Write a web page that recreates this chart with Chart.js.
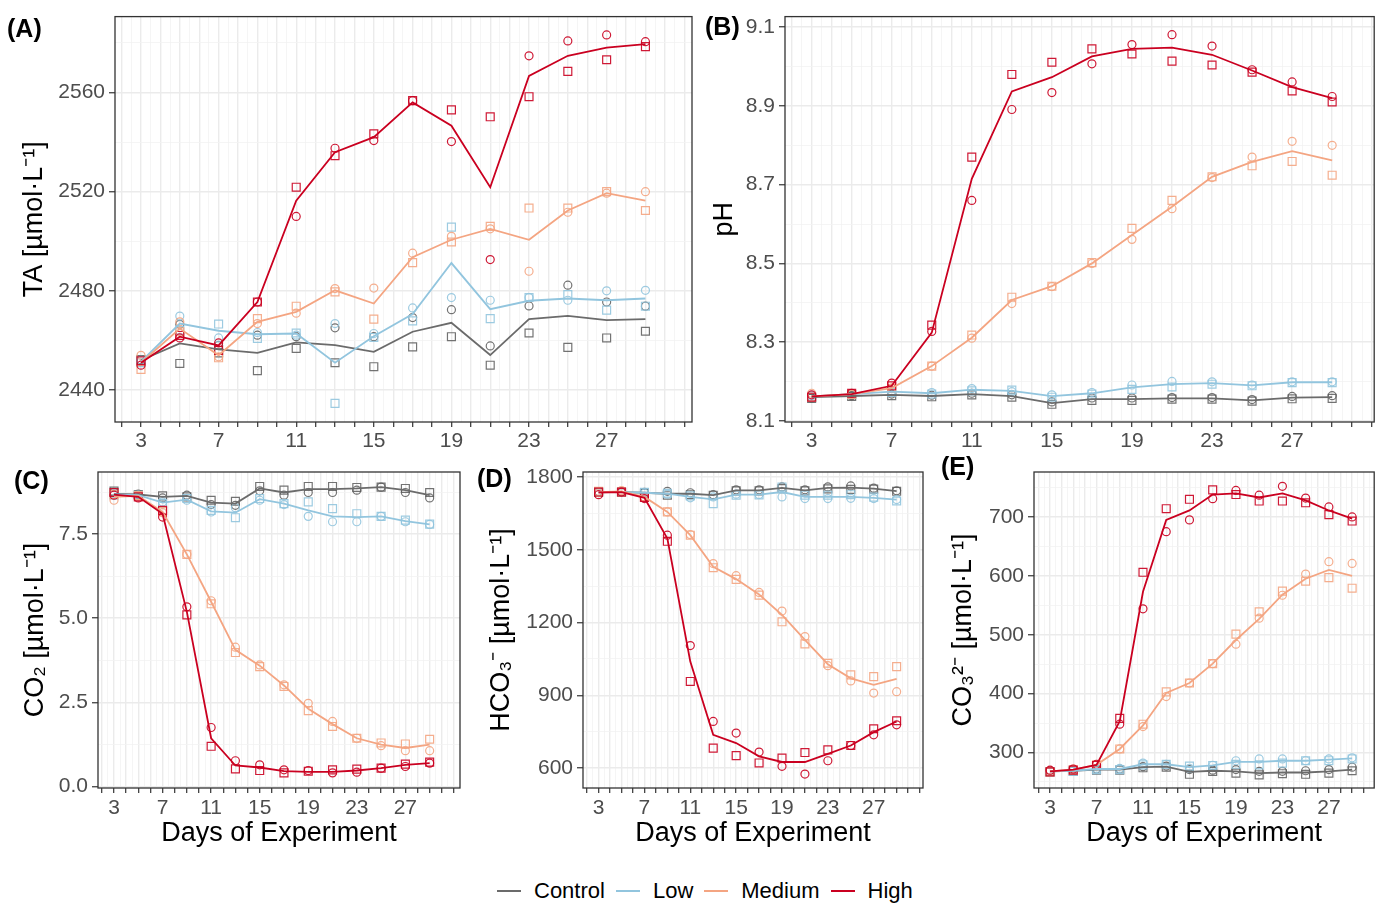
<!DOCTYPE html>
<html>
<head>
<meta charset="utf-8">
<script src="https://cdn.jsdelivr.net/npm/chart.js@4.4.1/dist/chart.umd.min.js"></script>
<style>
body { margin: 0; width: 1381px; height: 903px; overflow: hidden; background: #fff;
       font-family: "Liberation Sans", Arial, sans-serif; }
canvas { position: absolute; }
.lab { position: absolute; font-weight: bold; font-size: 25px; line-height: 1; color: #000; }
#legend { position: absolute; left: 497px; top: 880px; display: flex; align-items: center;
          font-size: 22px; line-height: 1; color: #000; }
#legend .key { width: 24px; height: 2px; margin-right: 13px; }
#legend .txt { margin-right: 11px; }
</style>
</head>
<body>
<canvas id="ta" width="700" height="455" style="left:0;top:0"></canvas>
<canvas id="ph" width="681" height="455" style="left:700px;top:0"></canvas>
<canvas id="co2" width="470" height="400" style="left:0;top:455px"></canvas>
<canvas id="hco3" width="460" height="400" style="left:470px;top:455px"></canvas>
<canvas id="co3" width="451" height="400" style="left:930px;top:455px"></canvas>

<div class="lab" style="left:7px;top:16px">(A)</div>
<div class="lab" style="left:705px;top:14px">(B)</div>
<div class="lab" style="left:14px;top:468px">(C)</div>
<div class="lab" style="left:477px;top:466px">(D)</div>
<div class="lab" style="left:941px;top:454px">(E)</div>

<div id="legend"></div>

<script>
// sampling days
var days = [3, 5, 7, 9, 11, 13, 15, 17, 19, 21, 23, 25, 27, 29];
var treatments = ['Control', 'Low', 'Medium', 'High'];
var colours = ['#6b6b6b', '#92c5de', '#f4a582', '#ca0020'];
var point_colours = ['rgba(90,90,90,0.85)', 'rgba(146,197,222,0.9)', 'rgba(244,165,130,0.9)', 'rgba(202,0,32,0.9)'];
var x_labels = [3, 7, 11, 15, 19, 23, 27];

// rows: Control, Low, Medium, High. rep1 = circles, rep2 = squares
// (A) total alkalinity
var ta_mean = [
    [2452, 2458.8, 2456.4, 2455, 2459.2, 2458.1, 2455.4, 2463.5, 2467.1, 2454.1, 2468.6, 2469.9, 2468.2, 2468.6],
    [2451.4, 2466.8, 2463.9, 2462.5, 2462.8, 2451, 2461.7, 2470.6, 2491.2, 2472.6, 2476, 2476.9, 2476.2, 2476.9],
    [2451, 2464.8, 2454, 2467.5, 2471.5, 2480.2, 2474.9, 2493.6, 2500.6, 2505, 2500.6, 2512.4, 2519.4, 2516.4],
    [2451, 2461.5, 2458, 2475.5, 2516.4, 2535.9, 2542, 2556, 2546.6, 2521.8, 2566.7, 2574.8, 2578.1, 2579.5]
];
var ta_rep1 = [
    [2452, 2466.5, 2458, 2462.1, 2461.5, 2465.1, 2461.5, 2469.2, 2472.4, 2457.8, 2473.9, 2482.3, 2475.5, 2473.8],
    [2452, 2469.8, 2461, 2463.2, 2462.1, 2466.8, 2462.8, 2473.1, 2477.3, 2476.2, 2477.3, 2476.2, 2480, 2480.2],
    [2454, 2467.5, 2453.4, 2466.8, 2471, 2480.9, 2481.1, 2495.2, 2502, 2505, 2487.9, 2511.7, 2519.4, 2520],
    [2450, 2461, 2459, 2475.5, 2510, 2537.5, 2540.6, 2556.7, 2540.2, 2492.6, 2574.8, 2580.8, 2583.2, 2580.5]
];
var ta_rep2 = [
    [2452.3, 2450.7, 2455, 2447.8, 2456.8, 2451, 2449.4, 2457.4, 2461.5, 2450, 2463, 2457.2, 2461, 2463.7],
    [2451, 2464.1, 2466.6, 2460.8, 2463, 2434.6, 2461.2, 2467.9, 2505.7, 2468.8, 2477.3, 2478.5, 2472.2, 2473.8],
    [2448.3, 2463.5, 2453, 2468.8, 2473.8, 2479.6, 2468.6, 2491.4, 2499.7, 2506, 2513.4, 2513.4, 2520, 2512.4],
    [2451.8, 2462, 2456, 2475.5, 2521.8, 2534.5, 2543.3, 2556.7, 2553, 2550.2, 2558.3, 2568.5, 2573.2, 2578.5]
];
var ta_grid = [2440, 2460, 2480, 2500, 2520, 2540, 2560, 2580];
var ta_labels = [2440, 2480, 2520, 2560];

// (B) pH
var ph_mean = [
    [8.160, 8.163, 8.166, 8.163, 8.168, 8.163, 8.145, 8.155, 8.155, 8.157, 8.157, 8.152, 8.159, 8.160],
    [8.162, 8.168, 8.174, 8.170, 8.179, 8.176, 8.163, 8.170, 8.185, 8.193, 8.196, 8.190, 8.198, 8.198],
    [8.162, 8.168, 8.183, 8.239, 8.311, 8.407, 8.442, 8.500, 8.572, 8.644, 8.720, 8.758, 8.785, 8.762],
    [8.162, 8.168, 8.189, 8.324, 8.715, 8.937, 8.973, 9.026, 9.045, 9.048, 9.030, 8.990, 8.948, 8.920]
];
var ph_rep1 = [
    [8.158, 8.164, 8.168, 8.165, 8.170, 8.166, 8.148, 8.158, 8.158, 8.159, 8.159, 8.154, 8.162, 8.164],
    [8.164, 8.169, 8.176, 8.172, 8.182, 8.174, 8.166, 8.172, 8.191, 8.200, 8.199, 8.191, 8.199, 8.199],
    [8.170, 8.169, 8.184, 8.239, 8.310, 8.398, 8.441, 8.500, 8.561, 8.639, 8.718, 8.770, 8.810, 8.800],
    [8.166, 8.170, 8.196, 8.327, 8.660, 8.891, 8.934, 9.007, 9.056, 9.081, 9.052, 8.992, 8.961, 8.924]
];
var ph_rep2 = [
    [8.157, 8.162, 8.164, 8.161, 8.166, 8.160, 8.142, 8.152, 8.152, 8.155, 8.155, 8.150, 8.156, 8.157],
    [8.160, 8.167, 8.172, 8.168, 8.176, 8.178, 8.160, 8.168, 8.180, 8.186, 8.193, 8.189, 8.197, 8.197],
    [8.160, 8.167, 8.182, 8.239, 8.318, 8.414, 8.442, 8.502, 8.589, 8.660, 8.720, 8.748, 8.759, 8.724],
    [8.160, 8.170, 8.189, 8.343, 8.770, 8.980, 9.011, 9.045, 9.032, 9.014, 9.004, 8.986, 8.938, 8.910]
];
var ph_grid = [8.1, 8.2, 8.3, 8.4, 8.5, 8.6, 8.7, 8.8, 8.9, 9.0, 9.1];
var ph_labels = [8.1, 8.3, 8.5, 8.7, 8.9, 9.1];

// (C) CO2
var co2_mean = [
    [8.70, 8.68, 8.61, 8.64, 8.44, 8.41, 8.86, 8.74, 8.84, 8.84, 8.86, 8.90, 8.81, 8.66],
    [8.68, 8.66, 8.44, 8.53, 8.18, 8.14, 8.54, 8.41, 8.21, 8.03, 8.01, 8.03, 7.89, 7.79],
    [8.61, 8.64, 8.16, 6.90, 5.49, 4.06, 3.59, 3.00, 2.31, 1.85, 1.43, 1.24, 1.14, 1.24],
    [8.68, 8.61, 8.11, 5.19, 1.43, 0.62, 0.56, 0.45, 0.43, 0.43, 0.47, 0.54, 0.64, 0.69]
];
var co2_rep1 = [
    [8.74, 8.69, 8.58, 8.66, 8.38, 8.36, 8.79, 8.66, 8.74, 8.74, 8.81, 8.90, 8.74, 8.58],
    [8.70, 8.66, 8.46, 8.51, 8.16, 8.29, 8.51, 8.38, 8.03, 7.87, 7.87, 8.03, 7.87, 7.79],
    [8.51, 8.63, 8.14, 6.90, 5.52, 4.14, 3.61, 3.02, 2.47, 1.93, 1.43, 1.21, 1.06, 1.06],
    [8.66, 8.58, 8.01, 5.34, 1.75, 0.76, 0.64, 0.49, 0.47, 0.40, 0.42, 0.54, 0.59, 0.69]
];
var co2_rep2 = [
    [8.78, 8.68, 8.64, 8.61, 8.51, 8.48, 8.92, 8.81, 8.92, 8.92, 8.89, 8.90, 8.86, 8.74],
    [8.66, 8.66, 8.41, 8.56, 8.21, 7.99, 8.56, 8.41, 8.46, 8.26, 8.11, 8.03, 7.92, 7.80],
    [8.68, 8.65, 8.18, 6.90, 5.43, 3.98, 3.56, 2.97, 2.25, 1.78, 1.43, 1.29, 1.26, 1.40],
    [8.74, 8.61, 8.21, 5.10, 1.19, 0.52, 0.47, 0.40, 0.45, 0.49, 0.51, 0.54, 0.66, 0.72]
];
var co2_grid = [0, 1.25, 2.5, 3.75, 5, 6.25, 7.5, 8.75];
var co2_labels = [0, 2.5, 5, 7.5];

// (D) HCO3-
var hco3_mean = [
    [1738, 1738, 1735, 1731, 1731, 1725, 1745, 1745, 1755, 1745, 1755, 1756, 1752, 1742],
    [1738, 1738, 1735, 1731, 1718, 1708, 1727, 1727, 1738, 1718, 1718, 1718, 1714, 1707],
    [1738, 1741, 1718, 1656, 1560, 1430, 1379, 1316, 1231, 1128, 1028, 970, 943, 968],
    [1736, 1738, 1714, 1546, 1039, 737, 703, 648, 625, 625, 658, 693, 748, 792]
];
var hco3_rep1 = [
    [1740, 1740, 1737, 1741, 1735, 1727, 1747, 1747, 1759, 1747, 1759, 1763, 1754, 1743],
    [1736, 1737, 1733, 1729, 1714, 1718, 1729, 1728, 1718, 1711, 1711, 1712, 1711, 1707],
    [1735, 1744, 1718, 1656, 1563, 1443, 1393, 1324, 1247, 1142, 1022, 959, 909, 915],
    [1727, 1738, 1711, 1560, 1105, 792, 744, 666, 607, 575, 630, 693, 737, 778]
];
var hco3_rep2 = [
    [1736, 1736, 1733, 1725, 1727, 1725, 1743, 1743, 1752, 1743, 1751, 1749, 1750, 1741],
    [1740, 1739, 1737, 1733, 1722, 1690, 1725, 1726, 1759, 1725, 1725, 1727, 1717, 1701],
    [1741, 1738, 1718, 1656, 1560, 1426, 1378, 1313, 1203, 1112, 1032, 984, 977, 1018],
    [1738, 1738, 1716, 1535, 957, 682, 651, 621, 641, 664, 675, 693, 762, 795]
];
var hco3_grid = [600, 750, 900, 1050, 1200, 1350, 1500, 1650, 1800];
var hco3_labels = [600, 900, 1200, 1500, 1800];

// (E) CO3 2-
var co3_mean = [
    [268, 269, 271, 271, 275, 276, 267, 269, 268, 265, 266, 266, 268, 271],
    [268, 269, 272, 272, 280, 280, 275, 278, 284, 284, 286, 286, 288, 290],
    [268, 271, 279, 306, 346, 401, 418, 451, 491, 527, 568, 595, 610, 600],
    [268, 271, 279, 353, 573, 695, 711, 738, 740, 733, 740, 728, 711, 697]
];
var co3_rep1 = [
    [269, 270, 272, 272, 276, 277, 271, 270, 271, 268, 268, 269, 271, 275],
    [269, 270, 273, 273, 282, 280, 273, 278, 286, 289, 289, 286, 289, 291],
    [269, 272, 279, 306, 344, 395, 418, 451, 484, 528, 567, 603, 624, 621],
    [270, 272, 280, 348, 544, 675, 695, 731, 745, 737, 752, 732, 717, 700]
];
var co3_rep2 = [
    [267, 268, 270, 270, 274, 275, 263, 268, 265, 262, 264, 263, 265, 269],
    [267, 268, 271, 271, 279, 280, 277, 278, 280, 279, 282, 286, 286, 289],
    [267, 270, 279, 306, 348, 403, 418, 451, 501, 539, 574, 591, 597, 579],
    [267, 270, 278, 358, 606, 714, 730, 746, 738, 727, 727, 724, 704, 693]
];
var co3_grid = [250, 300, 350, 400, 450, 500, 550, 600, 650, 700, 750];
var co3_labels = [300, 400, 500, 600, 700];

var FONT = '"Liberation Sans", Arial, sans-serif';
Chart.defaults.font.family = FONT;
Chart.defaults.animation = false;

// vertical grid every half day, ticks on whole days
var x_grid = [];
for (var g = 2; g <= 31; g += 0.5) x_grid.push(g);

function pts(arr) {
    return days.map(function (d, i) { return {x: d, y: arr[i]}; });
}

function make_datasets(mean, rep1, rep2) {
    var ds = [];
    for (var t = treatments.length - 1; t >= 0; t--) {
        ds.push({label: treatments[t], data: pts(mean[t]), borderColor: colours[t],
                 borderWidth: 1.8, pointRadius: 0, tension: 0, fill: false});
    }
    for (var t = treatments.length - 1; t >= 0; t--) {
        ds.push({data: pts(rep1[t]), showLine: false, pointStyle: 'circle', pointRadius: 4,
                 pointBorderWidth: 1.2, pointBorderColor: point_colours[t],
                 pointBackgroundColor: 'rgba(0,0,0,0)', borderColor: point_colours[t]});
        ds.push({data: pts(rep2[t]), showLine: false, pointStyle: 'rect', pointRadius: 5.6,
                 pointBorderWidth: 1.2, pointBorderColor: point_colours[t],
                 pointBackgroundColor: 'rgba(0,0,0,0)', borderColor: point_colours[t]});
    }
    return ds;
}

var frame = {
    id: 'frame',
    afterDraw: function (chart) {
        var a = chart.chartArea, c = chart.ctx;
        c.save();
        c.strokeStyle = '#333333';
        c.lineWidth = 1.3;
        c.strokeRect(a.left, a.top, a.right - a.left, a.bottom - a.top);
        c.restore();
    }
};

function panel(id, o) {
    var is_major_x = function (v) { return Number.isInteger(v); };
    var scales = {
        x: {
            type: 'linear', min: o.xmin, max: o.xmax,
            afterBuildTicks: function (s) { s.ticks = x_grid.filter(function (v) { return v <= o.xmax; }).map(function (v) { return {value: v}; }); },
            afterFit: function (s) { s.height = o.xh; },
            border: {display: false},
            grid: {
                color: function (c) { return is_major_x(c.tick.value) ? '#ebebeb' : '#f2f2f2'; },
                lineWidth: function (c) { return is_major_x(c.tick.value) ? 1.4 : 0.8; },
                tickColor: function (c) { return is_major_x(c.tick.value) ? '#333333' : 'rgba(0,0,0,0)'; },
                tickWidth: 1.2, tickLength: 5
            },
            ticks: {
                autoSkip: false, maxRotation: 0, padding: o.xpad, color: '#4d4d4d',
                font: {size: 21},
                callback: function (v) { return x_labels.indexOf(v) >= 0 ? String(v) : ''; }
            },
            title: o.xtitle ? {display: true, text: o.xtitle, color: '#000', font: {size: 27},
                               padding: {top: 0, bottom: 5}} : {display: false}
        },
        y: {
            type: 'linear', min: o.ymin, max: o.ymax,
            afterBuildTicks: function (s) { s.ticks = o.grid.map(function (v) { return {value: v}; }); },
            afterFit: function (s) { s.width = o.yw; },
            border: {display: false},
            grid: {
                color: function (c) { return o.labels.indexOf(c.tick.value) >= 0 ? '#ebebeb' : '#f2f2f2'; },
                lineWidth: function (c) { return o.labels.indexOf(c.tick.value) >= 0 ? 1.5 : 0.8; },
                tickColor: function (c) { return o.labels.indexOf(c.tick.value) >= 0 ? '#333333' : 'rgba(0,0,0,0)'; },
                tickWidth: 1.2, tickLength: 6
            },
            ticks: {
                autoSkip: false, padding: 4, color: '#4d4d4d', font: {size: 21},
                callback: function (v) { return o.labels.indexOf(v) >= 0 ? o.fmt(v) : ''; }
            },
            title: {display: true, text: o.ytitle, color: '#000', font: {size: 27},
                    padding: {top: o.ytp, bottom: 0}}
        }
    };
    return new Chart(document.getElementById(id), {
        type: 'line',
        data: {datasets: make_datasets(o.mean, o.rep1, o.rep2)},
        options: {
            responsive: false, animation: false, events: [],
            layout: {padding: {top: o.pt, right: o.pr, left: 0, bottom: 0}},
            plugins: {legend: {display: false}, tooltip: {enabled: false}},
            scales: scales
        },
        plugins: [frame]
    });
}

var plain = function (v) { return String(v); };
var one_dp = function (v) { return v.toFixed(1); };

panel('ta', {mean: ta_mean, rep1: ta_rep1, rep2: ta_rep2, grid: ta_grid, labels: ta_labels,
             ymin: 2427.1, ymax: 2590.6, xmin: 1.66, xmax: 31.4, fmt: plain,
             ytitle: 'TA [µmol·L⁻¹]', ytp: 18, yw: 115, xh: 33, xpad: 2, pt: 16, pr: 8});
panel('ph', {mean: ph_mean, rep1: ph_rep1, rep2: ph_rep2, grid: ph_grid, labels: ph_labels,
             ymin: 8.097, ymax: 9.127, xmin: 1.67, xmax: 31.1, fmt: one_dp,
             ytitle: 'pH', ytp: 8, yw: 85, xh: 33, xpad: 2, pt: 16, pr: 0});
panel('co2', {mean: co2_mean, rep1: co2_rep1, rep2: co2_rep2, grid: co2_grid, labels: co2_labels,
              ymin: -0.05, ymax: 9.35, xmin: 1.68, xmax: 31.5, fmt: one_dp,
              ytitle: 'CO₂ [µmol·L⁻¹]', ytp: 19, yw: 98, xh: 67, xpad: 3, pt: 17, pr: 10,
              xtitle: 'Days of Experiment'});
panel('hco3', {mean: hco3_mean, rep1: hco3_rep1, rep2: hco3_rep2, grid: hco3_grid, labels: hco3_labels,
               ymin: 517.7, ymax: 1820.6, xmin: 1.64, xmax: 31.3, fmt: plain,
               ytitle: 'HCO₃⁻ [µmol·L⁻¹]', ytp: 15, yw: 113, xh: 67, xpad: 3, pt: 17, pr: 7,
               xtitle: 'Days of Experiment'});
panel('co3', {mean: co3_mean, rep1: co3_rep1, rep2: co3_rep2, grid: co3_grid, labels: co3_labels,
              ymin: 239.7, ymax: 776.3, xmin: 1.62, xmax: 30.9, fmt: plain,
              ytitle: 'CO₃²⁻ [µmol·L⁻¹]', ytp: 17, yw: 104, xh: 67, xpad: 3, pt: 17, pr: 0,
              xtitle: 'Days of Experiment'});

// shared legend
var leg = document.getElementById('legend');
treatments.forEach(function (name, i) {
    var k = document.createElement('div');
    k.className = 'key';
    k.style.background = colours[i];
    var t = document.createElement('div');
    t.className = 'txt';
    t.textContent = name;
    leg.appendChild(k);
    leg.appendChild(t);
});
</script>
</body>
</html>
